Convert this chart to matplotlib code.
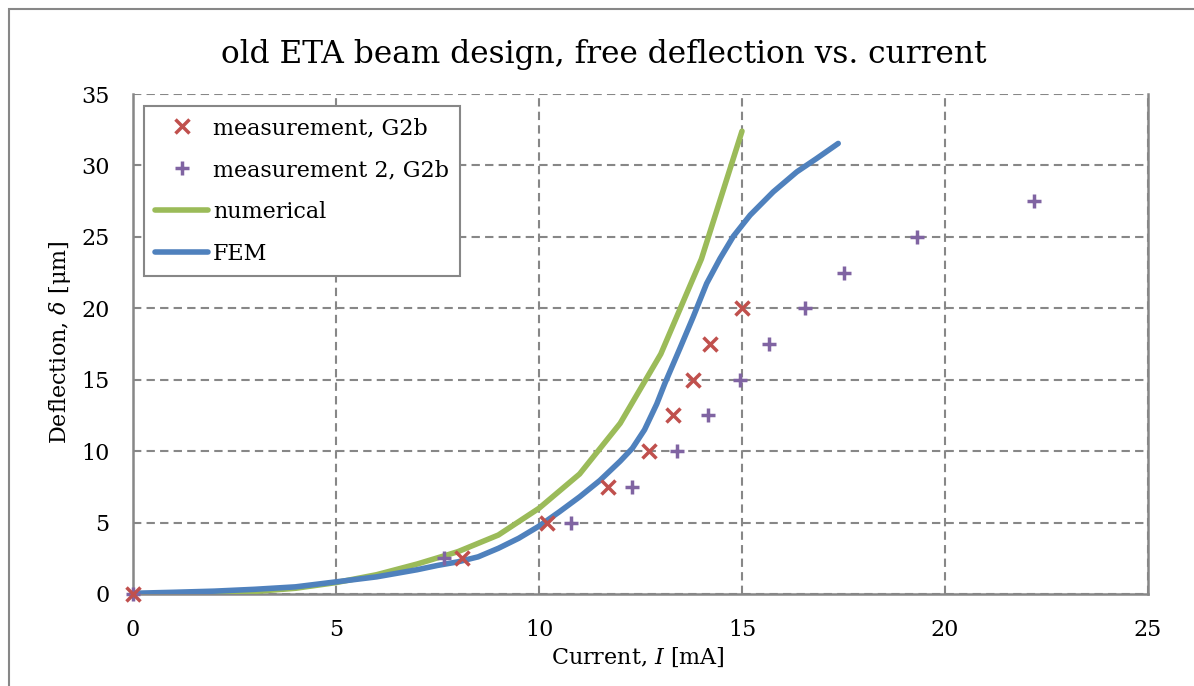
import matplotlib
matplotlib.use("Agg")
import matplotlib.pyplot as plt
from matplotlib.patches import Rectangle
from matplotlib.lines import Line2D

# ---- data ----
meas1_x = [0, 8.1, 10.2, 11.7, 12.7, 13.3, 13.8, 14.2, 15.0]
meas1_y = [0, 2.5, 5.0, 7.5, 10.0, 12.5, 15.0, 17.5, 20.0]

meas2_x = [0, 7.67, 10.8, 12.28, 13.4, 14.17, 14.94, 15.67, 16.55, 17.51, 19.3, 22.2]
meas2_y = [0, 2.5, 5.0, 7.5, 10.0, 12.5, 15.0, 17.5, 20.0, 22.5, 25.0, 27.5]

num_x = [0, 1, 2, 3, 4, 5, 6, 7, 8, 9, 10, 11, 12, 13, 14, 15]
num_y = [0, 0.02, 0.07, 0.18, 0.4, 0.8, 1.35, 2.1, 2.96, 4.13, 6.0, 8.4, 11.95, 16.8, 23.45, 32.4]

fem_x = [0, 1, 2, 3, 4, 5, 6, 7, 7.5, 8, 8.5, 9, 9.5, 10, 10.5, 11, 11.5, 12,
         12.3, 12.6, 12.9, 13.1, 13.47, 13.8, 14.13, 14.46, 14.79, 15.2, 15.77,
         16.35, 16.84, 17.37]
fem_y = [0.05, 0.12, 0.2, 0.33, 0.5, 0.85, 1.2, 1.7, 2.0, 2.25, 2.6, 3.2, 3.9,
         4.75, 5.75, 6.8, 7.95, 9.3, 10.2, 11.5, 13.3, 14.74, 17.19, 19.41, 21.74,
         23.49, 25.05, 26.52, 28.15, 29.55, 30.49, 31.54]

x_ticks = [0, 5, 10, 15, 20, 25]
y_ticks = [0, 5, 10, 15, 20, 25, 30, 35]

title = "old ETA beam design, free deflection vs. current"
labels = ["measurement, G2b", "measurement 2, G2b", "numerical", "FEM"]

RED = "#C0504D"
PURPLE = "#8064A2"
GREEN = "#9BBB59"
BLUE = "#4F81BD"
GRAY = "#878787"

FONT = "DejaVu Serif"
plt.rcParams["font.family"] = [FONT]
plt.rcParams["mathtext.fontset"] = "custom"
plt.rcParams["mathtext.rm"] = FONT
plt.rcParams["mathtext.it"] = FONT + ":italic"

W, H = 1194, 686
fig = plt.figure(figsize=(W / 100, H / 100), dpi=100)
ax = fig.add_axes([133 / W, 1 - 594 / H, (1148 - 133) / W, (594 - 94) / H])

# outer chart frame
fig.patches.append(Rectangle((8.5 / W, -0.05), 1.2, 1 - 9.5 / H + 0.05,
                             transform=fig.transFigure, fill=False,
                             edgecolor=GRAY, linewidth=1.5, zorder=0))

ax.set_xlim(0, 25)
ax.set_ylim(0, 35)
ax.set_xticks(x_ticks)
ax.set_yticks(y_ticks)
ax.tick_params(length=0, labelsize=16)
ax.tick_params(axis="x", pad=18)
ax.tick_params(axis="y", pad=17)

ax.grid(True, color=GRAY, linestyle=(0, (4, 2.5)), linewidth=1.5)
ax.set_axisbelow(True)
for s in ["left", "bottom", "right"]:
    ax.spines[s].set_color(GRAY)
    ax.spines[s].set_linewidth(1.8)
ax.spines["top"].set_visible(False)

LW = 4.0
ax.plot(num_x, num_y, color=GREEN, linewidth=LW, solid_capstyle="round",
        solid_joinstyle="round", zorder=3)
ax.plot(fem_x, fem_y, color=BLUE, linewidth=LW, solid_capstyle="round",
        solid_joinstyle="round", zorder=4)
ax.plot(meas1_x, meas1_y, linestyle="none", marker="x", color=RED,
        markersize=10.5, markeredgewidth=2.5, zorder=6, clip_on=False)
ax.plot(meas2_x, meas2_y, linestyle="none", marker="+", color=PURPLE,
        markersize=10, markeredgewidth=2.5, zorder=5, clip_on=False)

fig.text(604 / W, 1 - 63 / H, title, fontsize=22.5, ha="center", va="baseline")
fig.text(638 / W, 1 - 664 / H, r"Current, $\mathit{I}$ [mA]", fontsize=16,
         ha="center", va="baseline")
fig.text(60 / W, 1 - 342 / H, r"Deflection, $\mathit{\delta}$ [μm]", fontsize=16,
         ha="center", va="center", rotation=90)

handles = [
    Line2D([], [], linestyle="none", marker="x", color=RED, markersize=10.5, markeredgewidth=2.5),
    Line2D([], [], linestyle="none", marker="+", color=PURPLE, markersize=10, markeredgewidth=2.5),
    Line2D([], [], color=GREEN, linewidth=LW, solid_capstyle="round"),
    Line2D([], [], color=BLUE, linewidth=LW, solid_capstyle="round"),
]
leg = ax.legend(handles, labels, loc="upper left",
                bbox_to_anchor=((144 - 133) / (1148 - 133), (594 - 106) / 500),
                fontsize=16, frameon=True, fancybox=False, handlelength=2.4,
                handletextpad=0.2, borderpad=0.5, labelspacing=0.9,
                borderaxespad=0)
leg.get_frame().set_edgecolor(GRAY)
leg.get_frame().set_linewidth(1.5)
leg.get_frame().set_alpha(1)

fig.savefig("out.png", dpi=100)
